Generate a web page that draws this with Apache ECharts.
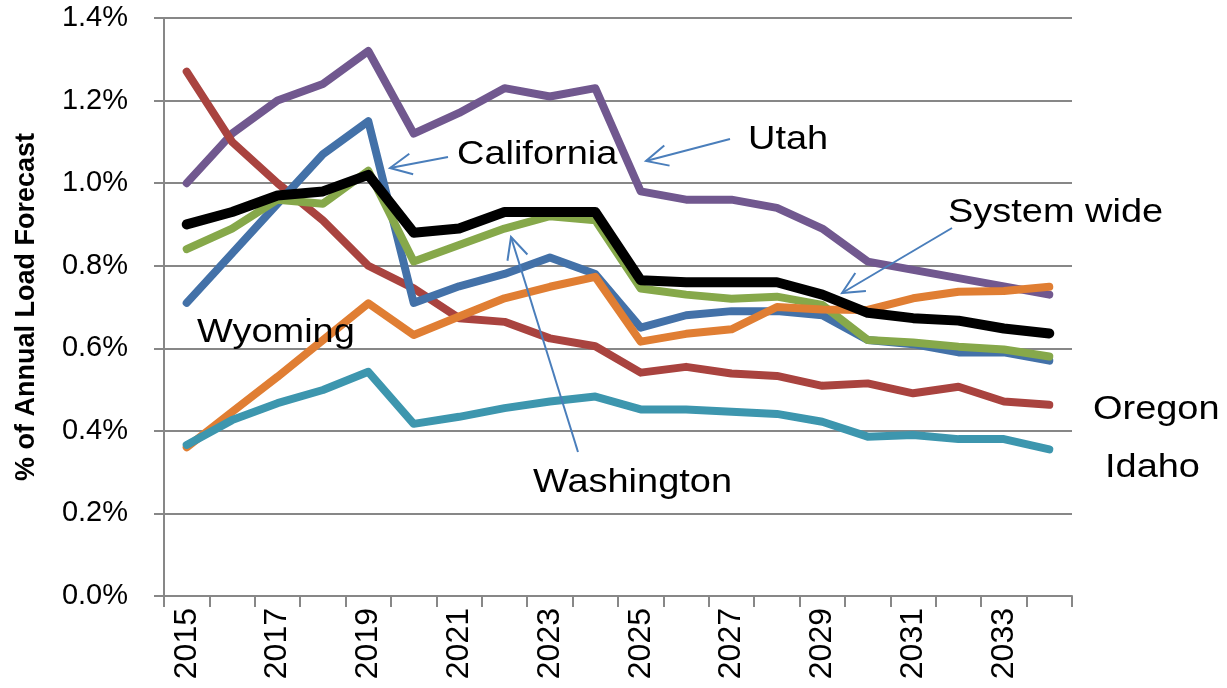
<!DOCTYPE html>
<html>
<head>
<meta charset="utf-8">
<script src="https://cdn.jsdelivr.net/npm/echarts@6/dist/echarts.min.js"></script>
<style>
  html, body { margin: 0; padding: 0; background: #fff; }
  #main { width: 1227px; height: 688px; }
</style>
</head>
<body>
<div id="main"></div>
<script>
// years on the x axis
var years = ['2015','2016','2017','2018','2019','2020','2021','2022','2023','2024',
             '2025','2026','2027','2028','2029','2030','2031','2032','2033','2034']

// % of annual load forecast
var utah       = [1.00,1.12,1.20,1.24,1.32,1.12,1.17,1.23,1.21,1.23,0.98,0.96,0.96,0.94,0.89,0.81,0.79,0.77,0.75,0.73]
var california = [0.71,0.83,0.95,1.07,1.15,0.71,0.75,0.78,0.82,0.78,0.65,0.68,0.69,0.69,0.68,0.62,0.61,0.59,0.59,0.57]
var washington = [0.84,0.89,0.96,0.95,1.03,0.81,0.85,0.89,0.92,0.91,0.745,0.73,0.72,0.725,0.705,0.62,0.614,0.604,0.597,0.58]
var systemWide = [0.90,0.93,0.97,0.98,1.02,0.88,0.89,0.93,0.93,0.93,0.765,0.76,0.76,0.76,0.73,0.686,0.673,0.667,0.648,0.636]
var oregon     = [1.27,1.10,1.00,0.91,0.80,0.745,0.673,0.664,0.624,0.605,0.541,0.555,0.539,0.533,0.509,0.515,0.491,0.507,0.471,0.463]
var wyoming    = [0.36,0.446,0.531,0.62,0.709,0.632,0.677,0.721,0.749,0.773,0.616,0.635,0.646,0.70,0.694,0.693,0.721,0.737,0.739,0.749]
var idaho      = [0.366,0.426,0.467,0.499,0.543,0.417,0.434,0.455,0.471,0.483,0.452,0.452,0.446,0.441,0.422,0.386,0.39,0.38,0.38,0.355]

var chartDom = document.getElementById('main')
var myChart = echarts.init(chartDom)

var font = 'Liberation Sans'
var arrowColor = '#4a7ebb'

function mkLine(name, data, color, width) {
  return {
    name: name,
    type: 'line',
    data: data,
    symbol: 'none',
    lineStyle: { color: color, width: width, join: 'round', cap: 'round' },
    z: name === 'System wide' ? 5 : 3,
  }
}

// arrow pieces: shaft plus open head
function arrow(x1, y1, x2, y2) {
  var a = Math.atan2(y1 - y2, x1 - x2)
  var h = 24, s = 0.45
  return [
    { type: 'line', shape: { x1: x1, y1: y1, x2: x2, y2: y2 }, style: { stroke: arrowColor, lineWidth: 2 }, z: 10 },
    {
      type: 'polyline',
      shape: { points: [
        [x2 + h * Math.cos(a + s), y2 + h * Math.sin(a + s)],
        [x2, y2],
        [x2 + h * Math.cos(a - s), y2 + h * Math.sin(a - s)],
      ] },
      style: { stroke: arrowColor, lineWidth: 2, fill: null },
      z: 10,
    },
  ]
}

// annotation text, a bit wider than the font gives
function label(text, x, y) {
  return {
    type: 'text',
    x: x,
    y: y,
    scaleX: 1.15,
    style: { text: text, font: '33px "' + font + '"', fill: '#000', textVerticalAlign: 'middle' },
    z: 10,
  }
}

var option = {
  animation: false,
  grid: { left: 164, right: 155, top: 18, bottom: 92, outerBoundsMode: 'none' },
  xAxis: {
    type: 'category',
    data: years,
    boundaryGap: true,
    axisLine: { lineStyle: { color: '#878787', width: 2 } },
    axisTick: { show: true, interval: 0, length: 11, lineStyle: { color: '#878787', width: 2 } },
    axisLabel: { interval: 1, rotate: 90, color: '#000', fontSize: 32, fontFamily: font, margin: 12 },
  },
  yAxis: {
    type: 'value',
    min: 0,
    max: 1.4,
    interval: 0.2,
    name: '% of Annual Load Forecast',
    nameLocation: 'middle',
    nameGap: 124,
    nameTextStyle: { color: '#000', fontSize: 27, fontWeight: 'bold', fontFamily: font },
    axisLine: { show: true, lineStyle: { color: '#878787', width: 2 } },
    axisTick: { show: true, length: 10, lineStyle: { color: '#878787', width: 2 } },
    axisLabel: {
      color: '#000', fontSize: 29, fontFamily: font, margin: 36,
      formatter: function (v) { return v.toFixed(1) + '%' },
    },
    splitLine: { lineStyle: { color: '#878787', width: 2 } },
  },
  series: [
    mkLine('Utah', utah, '#71588f', 8),
    mkLine('Oregon', oregon, '#a9433f', 8),
    mkLine('California', california, '#4371a8', 8),
    mkLine('Washington', washington, '#86a84a', 8),
    mkLine('Wyoming', wyoming, '#e07e33', 8),
    mkLine('Idaho', idaho, '#3d96ae', 8),
    mkLine('System wide', systemWide, '#000000', 10),
  ],
  graphic: [].concat(
    arrow(448, 157, 390, 168),
    arrow(730, 139, 646, 161),
    arrow(952, 228, 842, 293),
    arrow(578, 452, 511, 237),
    [
      label('California', 457, 155),
      label('Utah', 748, 140),
      label('System wide', 948, 213),
      label('Wyoming', 197, 333),
      label('Washington', 533, 483),
      label('Oregon', 1093, 410),
      label('Idaho', 1105, 468),
    ]
  ),
}

option && myChart.setOption(option)
</script>
</body>
</html>
